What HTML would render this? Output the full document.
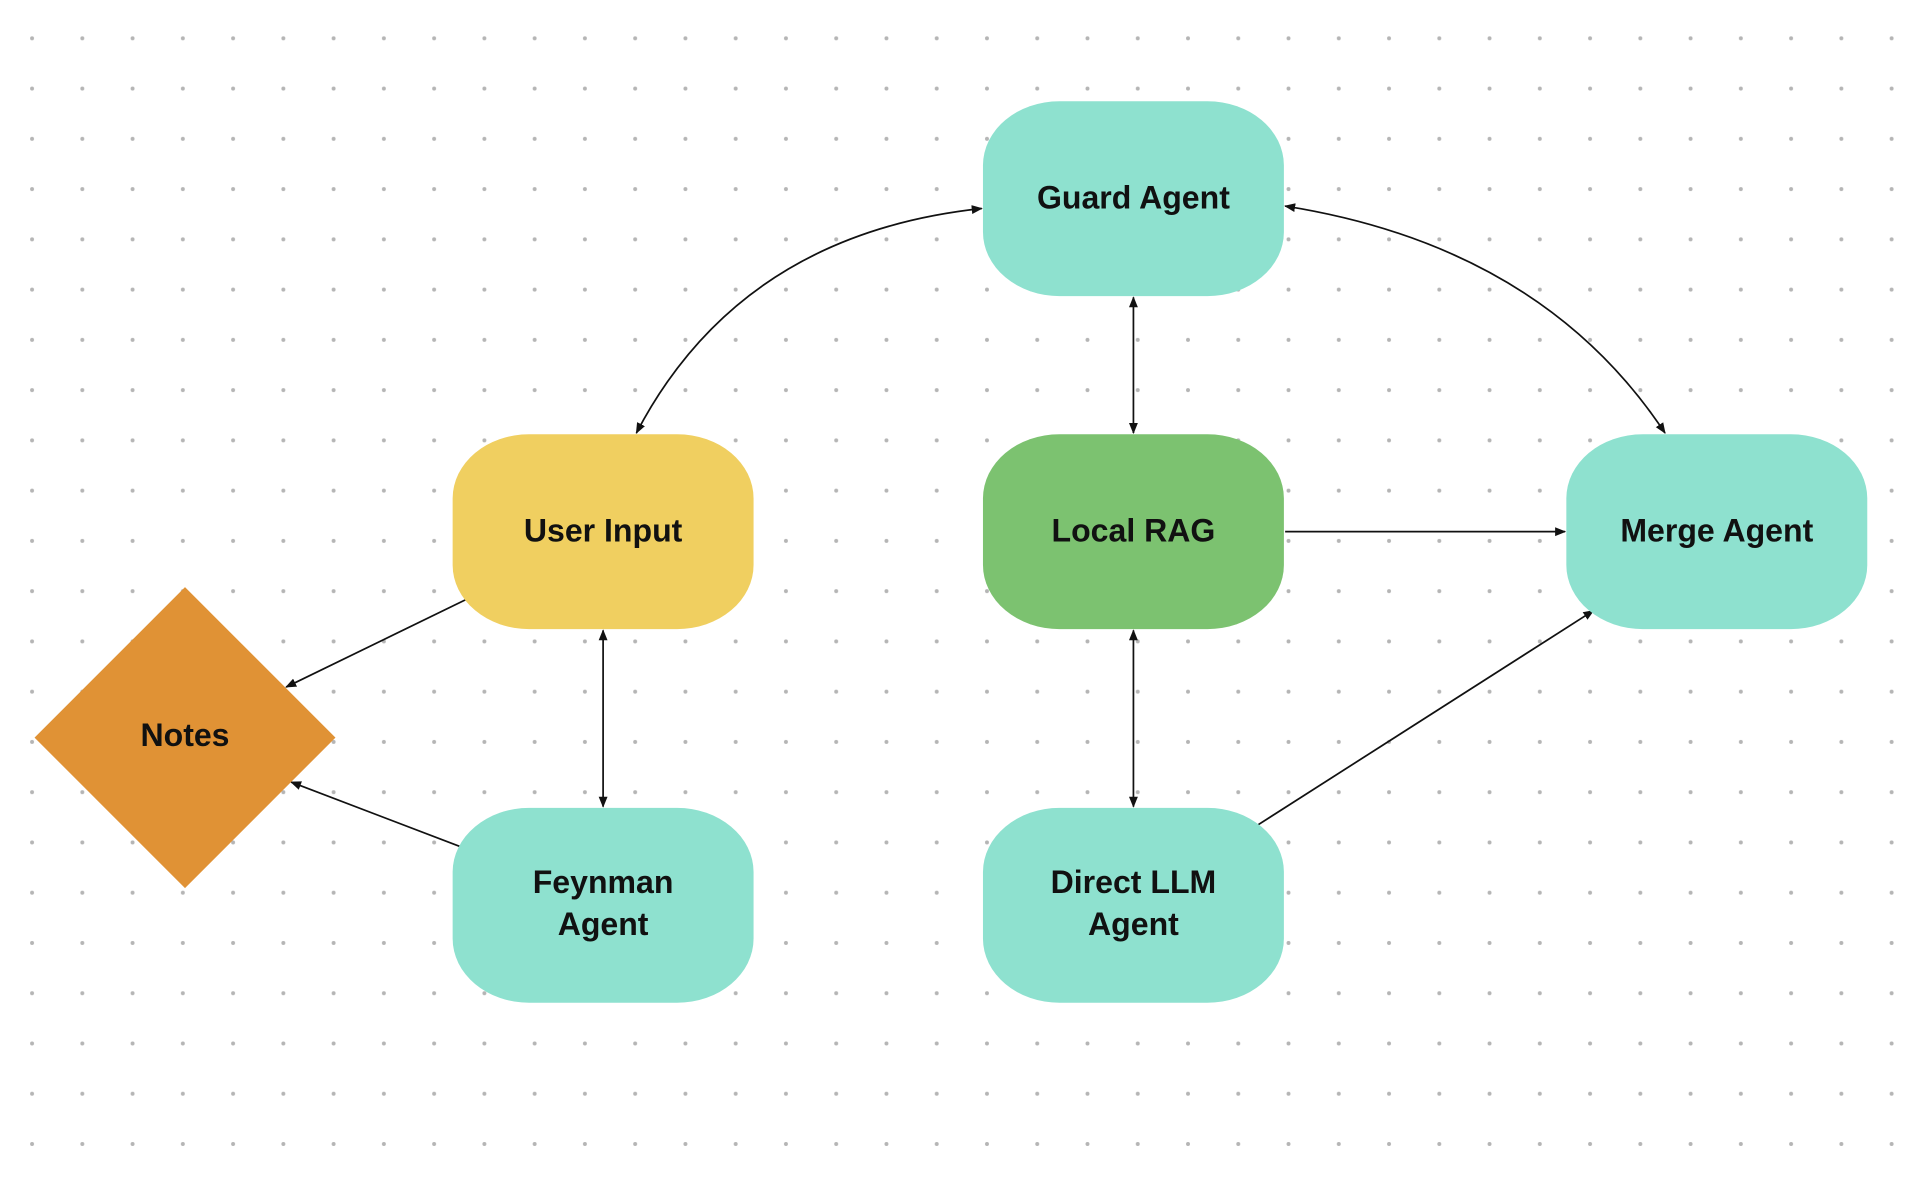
<!DOCTYPE html>
<html><head><meta charset="utf-8"><style>
html,body{margin:0;padding:0;background:#fff;}
svg{display:block}
text{font-family:"Liberation Sans",sans-serif;font-weight:bold;font-size:26px;fill:#111;text-anchor:middle;dominant-baseline:middle}
</style></head><body>
<svg width="1924" height="1178" viewBox="0 0 1560 955" xmlns="http://www.w3.org/2000/svg">
<defs>
<pattern id="dots" x="26" y="31" width="40.75" height="40.75" patternUnits="userSpaceOnUse">
<circle cx="0" cy="0" r="1.6" fill="#b5b5b5"/><circle cx="40.75" cy="0" r="1.6" fill="#b5b5b5"/><circle cx="0" cy="40.75" r="1.6" fill="#b5b5b5"/><circle cx="40.75" cy="40.75" r="1.6" fill="#b5b5b5"/>
</pattern>
<marker id="a" viewBox="0 0 10 10" refX="9" refY="5" markerWidth="9" markerHeight="9" orient="auto-start-reverse" markerUnits="userSpaceOnUse"><path d="M0,1 L10,5 L0,9 z" fill="#111"/></marker>
</defs>
<rect x="0" y="0" width="1560" height="955" fill="#fff"/>
<rect x="20" y="25" width="1525" height="910" fill="url(#dots)"/>
<g stroke="#111" stroke-width="1.4" fill="none">
<path d="M516,351 Q600,190 796,169" marker-start="url(#a)" marker-end="url(#a)"/>
<path d="M1042,167 Q1250,200 1350,351" marker-start="url(#a)" marker-end="url(#a)"/>
<path d="M919,241 L919,351" marker-start="url(#a)" marker-end="url(#a)"/>
<path d="M1042,431 L1269,431" marker-end="url(#a)"/>
<path d="M919,511 L919,654" marker-start="url(#a)" marker-end="url(#a)"/>
<path d="M1018,670 L1292,495" marker-end="url(#a)"/>
<path d="M380,485 L232,557" marker-end="url(#a)"/>
<path d="M380,689 L236,634" marker-end="url(#a)"/>
<path d="M489,511 L489,654" marker-start="url(#a)" marker-end="url(#a)"/>
</g>
<rect x="797" y="82" width="244" height="158" rx="62" ry="52" fill="#8ee1cf"/>
<rect x="367" y="352" width="244" height="158" rx="62" ry="52" fill="#f0cf60"/>
<rect x="797" y="352" width="244" height="158" rx="62" ry="52" fill="#7cc270"/>
<rect x="1270" y="352" width="244" height="158" rx="62" ry="52" fill="#8ee1cf"/>
<rect x="367" y="655" width="244" height="158" rx="62" ry="52" fill="#8ee1cf"/>
<rect x="797" y="655" width="244" height="158" rx="62" ry="52" fill="#8ee1cf"/>
<polygon points="150,476 272,598 150,720 28,598" fill="#e09235"/>
<text x="919" y="162">Guard Agent</text>
<text x="489" y="432">User Input</text>
<text x="919" y="432">Local RAG</text>
<text x="1392" y="432">Merge Agent</text>
<text x="489" y="717">Feynman</text>
<text x="489" y="751">Agent</text>
<text x="919" y="717">Direct LLM</text>
<text x="919" y="751">Agent</text>
<text x="150" y="598">Notes</text>
</svg>
</body></html>
